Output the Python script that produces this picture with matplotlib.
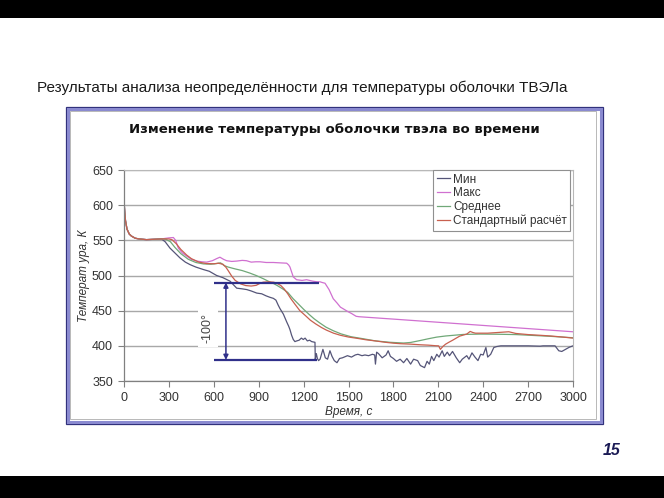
import matplotlib
matplotlib.use("Agg")
import matplotlib.pyplot as plt
from matplotlib.patches import Rectangle

# ---------------- data ----------------
slide_title = "Результаты анализа неопределённости для температуры оболочки ТВЭЛа"
chart_title = "Изменение температуры оболочки твэла во времени"
x_label = "Время, с"
y_label = "Температ ура, К"
series_names = ["Мин", "Макс", "Среднее", "Стандартный расчёт"]
x_ticks = [0, 300, 600, 900, 1200, 1500, 1800, 2100, 2400, 2700, 3000]
y_ticks = [350, 400, 450, 500, 550, 600, 650]
page_number = "15"
delta_label = "-100°"

t_start = [0, 5, 10, 20, 35, 50, 75, 100, 150, 200, 250]
T_start = [607, 590, 578, 566, 559, 556, 553, 552, 551, 551.5, 552]

t_min = t_start + [275, 307, 340, 374, 410, 441, 480, 530, 570, 619, 660, 708, 730, 753, 790,
                   820, 850, 887, 920, 950, 975, 998, 1015, 1030, 1042, 1065, 1087, 1100, 1109,
                   1120, 1131, 1142, 1154, 1170, 1185, 1198, 1210, 1225, 1240, 1254, 1276, 1278,
                   1285, 1292, 1300, 1310, 1329, 1345, 1360, 1376, 1390, 1405, 1423, 1440, 1460,
                   1493, 1520, 1545, 1563, 1590, 1610, 1634, 1660, 1675, 1680, 1688, 1700, 1725,
                   1751, 1765, 1780, 1800, 1821, 1845, 1868, 1890, 1915, 1935, 1962, 1980, 2008,
                   2025, 2040, 2055, 2070, 2090, 2105, 2126, 2140, 2160, 2175, 2195, 2220, 2243,
                   2260, 2290, 2305, 2325, 2345, 2365, 2383, 2400, 2418, 2430, 2450, 2471, 2490,
                   2518, 2600, 2700, 2780, 2800, 2880, 2905, 2925, 2950, 2975, 3000]
T_min = T_start + [548, 539, 532, 525, 519, 515.5, 512, 508.5, 506, 500, 497, 492, 487, 482, 481,
                   480, 478, 475, 474, 471, 469, 467.5, 465, 458, 453, 445, 434, 428, 423,
                   415, 409, 406, 407, 408, 411, 409, 411, 407, 408, 406, 405, 381,
                   389, 382, 379, 381, 395, 383, 381, 393, 385, 379, 376, 382, 383,
                   386, 384, 387, 388, 386, 387, 386, 388, 387, 374, 391, 389, 383,
                   387, 393, 385, 382, 378, 381, 376, 382, 374, 381, 379, 372, 369,
                   378, 374, 385, 379, 388, 384, 393, 385, 391, 386, 392, 383, 376,
                   381, 386, 381, 390, 384, 379, 388, 387, 397.6, 384, 388, 397.6, 399,
                   400, 400, 400, 399.5, 400, 400, 393, 392, 395, 398, 400]

t_max = t_start + [300, 330, 345, 363, 390, 419, 450, 486, 520, 552, 590, 619, 641, 665, 686,
                   720, 753, 790, 819, 850, 880, 909, 950, 998, 1040, 1087, 1100, 1109, 1120,
                   1131, 1153, 1190, 1220, 1260, 1290, 1310, 1325, 1343, 1370, 1398, 1423, 1446,
                   1470, 1493, 1520, 1551, 1570, 1800, 2000, 2200, 2500, 2600, 2800, 3000]
T_max = T_start + [553.5, 554, 550, 539, 532, 527.6, 523, 520.5, 519.5, 519, 521, 524, 526, 523, 521,
                   520, 520.5, 521.5, 521, 519, 519.5, 519.5, 518.5, 518.5, 518, 517.5, 515, 512, 505,
                   498, 494, 493, 494, 492, 491, 491, 490, 489, 480, 467, 461, 455,
                   452, 449, 446, 442, 441.4, 438, 435, 432, 427.5, 426, 423, 420]

t_mean = t_start + [280, 310, 340, 380, 430, 480, 530, 580, 620, 645, 670, 696, 740, 790, 840,
                    883, 930, 977, 1000, 1024, 1060, 1094, 1130, 1165, 1200, 1235, 1270, 1305,
                    1350, 1399, 1450, 1516, 1600, 1680, 1780, 1868, 1915, 1978, 2032, 2089, 2149,
                    2267, 2383, 2490, 2618, 2713, 2850, 3000]
T_mean = T_start + [551.5, 548, 540, 531, 523, 518.5, 516.5, 516, 517, 518, 514, 512, 509.5, 507, 503.5,
                    500, 495.5, 490.5, 488.5, 485.7, 481, 476, 467, 459.5, 452, 445, 438.5, 433,
                    426.5, 421.4, 417, 413, 410, 407, 405, 404, 404.8, 407.5, 410, 412.4, 414,
                    416.2, 416.7, 416.5, 416, 415, 413.5, 411.5]

t_std = t_start + [300, 320, 350, 380, 419, 450, 500, 550, 602, 630, 661, 680, 696, 720, 743,
                   780, 813, 850, 883, 910, 930, 970, 1001, 1025, 1048, 1070, 1094, 1115, 1141,
                   1175, 1212, 1245, 1282, 1320, 1352, 1400, 1446, 1500, 1563, 1620, 1680, 1740,
                   1798, 1850, 1915, 1980, 2032, 2080, 2102, 2114, 2130, 2149, 2170, 2196, 2220,
                   2243, 2270, 2290, 2313, 2330, 2348, 2390, 2430, 2500, 2571, 2618, 2700, 2780,
                   2852, 2930, 3000]
T_std = T_start + [552, 551, 545, 537, 529, 524, 519, 517, 516.7, 517.5, 516, 512, 507, 499, 493,
                   488, 485.7, 485, 486, 489, 490.5, 491, 490.5, 488.5, 485.7, 481, 474, 467, 459.5,
                   450, 443, 436.5, 431, 426, 422.4, 418, 415, 412.5, 410.5, 408.5, 407, 405.2,
                   403.8, 403, 402.4, 401.5, 401, 400.2, 400, 395, 399, 402.4, 405, 408, 411,
                   413.8, 415.5, 416.7, 420.5, 419, 418, 418, 418, 419, 420, 417.6, 416, 415,
                   414, 412.5, 411]

# annotation (difference arrow)
arrow_t = 681
top_level, bottom_level = 490, 380
top_span = (600, 1305)
bottom_span = (600, 1290)
delta_label_pos = (561, 425)

# ---------------- styling ----------------
W, H = 664, 498
fig = plt.figure(figsize=(W / 100, H / 100), dpi=100)
fig.patch.set_facecolor("white")

def fx(px):
    return px / W

def fy(py):
    return 1 - py / H

# black bars top / bottom
fig.patches.append(Rectangle((0, fy(18)), 1, 18 / H, transform=fig.transFigure,
                             facecolor="black", edgecolor="none", zorder=0))
fig.patches.append(Rectangle((0, 0), 1, 22 / H, transform=fig.transFigure,
                             facecolor="black", edgecolor="none", zorder=0))

# chart frame
fig.patches.append(Rectangle((fx(65.5), fy(424)), (603 - 65.5) / W, (424 - 107.5) / H,
                             transform=fig.transFigure, facecolor="none",
                             edgecolor="#2f2f7a", lw=0.9, zorder=1))
fig.patches.append(Rectangle((fx(67.5), fy(421.5)), (600.5 - 67.5) / W, (421.5 - 109.5) / H,
                             transform=fig.transFigure, facecolor="none",
                             edgecolor="#8a8ad0", lw=2.2, zorder=1))
fig.patches.append(Rectangle((fx(69.5), fy(419)), (596 - 69.5) / W, (419 - 111.5) / H,
                             transform=fig.transFigure, facecolor="none",
                             edgecolor="#b8b8b8", lw=0.7, zorder=1))

fig.text(fx(37), fy(88), slide_title, ha="left", va="center", fontsize=11.0,
         family="Liberation Sans", color="#1a1a1a")
fig.text(fx(334.5), fy(130), chart_title, ha="center", va="center", fontsize=9.5,
         family="DejaVu Sans", fontweight="bold", color="#111111")
fig.text(fx(612), fy(450), page_number, ha="center", va="center", fontsize=11.5,
         family="Liberation Sans", fontweight="bold", fontstyle="italic", color="#1b1b55")

ax = fig.add_axes([fx(124), fy(381), (573 - 124) / W, (381 - 170) / H])
ax.set_xlim(0, 3000)
ax.set_ylim(350, 650)
ax.set_xticks(x_ticks)
ax.set_yticks(y_ticks)
ax.set_facecolor("none")
ax.yaxis.grid(True, color="#a8a8a8", lw=1.0)
ax.set_axisbelow(True)
for s in ["top", "right"]:
    ax.spines[s].set_color("#b8b8b8")
    ax.spines[s].set_linewidth(0.8)
for s in ["left", "bottom"]:
    ax.spines[s].set_color("#808080")
    ax.spines[s].set_linewidth(0.9)
ax.tick_params(direction="out", length=4, width=0.8, color="#808080",
               labelsize=9, labelcolor="#333333", pad=4)
for lab in ax.get_xticklabels() + ax.get_yticklabels():
    lab.set_family("Liberation Sans")

colors = ["#555578", "#d070d0", "#70a878", "#c8604f"]
ts = [t_min, t_max, t_mean, t_std]
Ts = [T_min, T_max, T_mean, T_std]
for t, T, c, name in zip(ts, Ts, colors, series_names):
    ax.plot(t, T, color=c, lw=0.9, label=name, zorder=2)

navy = "#30308a"
ax.hlines([top_level, bottom_level], [top_span[0], bottom_span[0]],
          [top_span[1], bottom_span[1]], color=navy, lw=1.6, zorder=3)
ax.annotate("", xy=(arrow_t, bottom_level), xytext=(arrow_t, top_level),
            arrowprops=dict(arrowstyle="<|-|>", color=navy, lw=1.1,
                            mutation_scale=7, shrinkA=0, shrinkB=0), zorder=3)
ax.text(delta_label_pos[0], delta_label_pos[1], delta_label, rotation=90, ha="center",
        va="center", fontsize=9, family="Liberation Sans", color="#444444", zorder=4,
        bbox=dict(facecolor="white", edgecolor="none", pad=3))

ax.set_xlabel(x_label, fontsize=8.5, family="Liberation Sans", style="italic",
              color="#333333", labelpad=1)
ax.set_ylabel(y_label, fontsize=8.5, family="Liberation Sans", style="italic",
              color="#333333", labelpad=1)

leg = ax.legend(loc="upper left", bbox_to_anchor=(fx(433), fy(170)),
                bbox_transform=fig.transFigure, borderaxespad=0, frameon=True,
                fancybox=False, framealpha=1, edgecolor="#909090",
                prop={"family": "Liberation Sans", "size": 8.5},
                handlelength=1.1, handletextpad=0.3, labelspacing=0.15, borderpad=0.3)
leg.get_frame().set_linewidth(0.8)
for txt in leg.get_texts():
    txt.set_color("#333333")

fig.savefig("out.png", dpi=100)
